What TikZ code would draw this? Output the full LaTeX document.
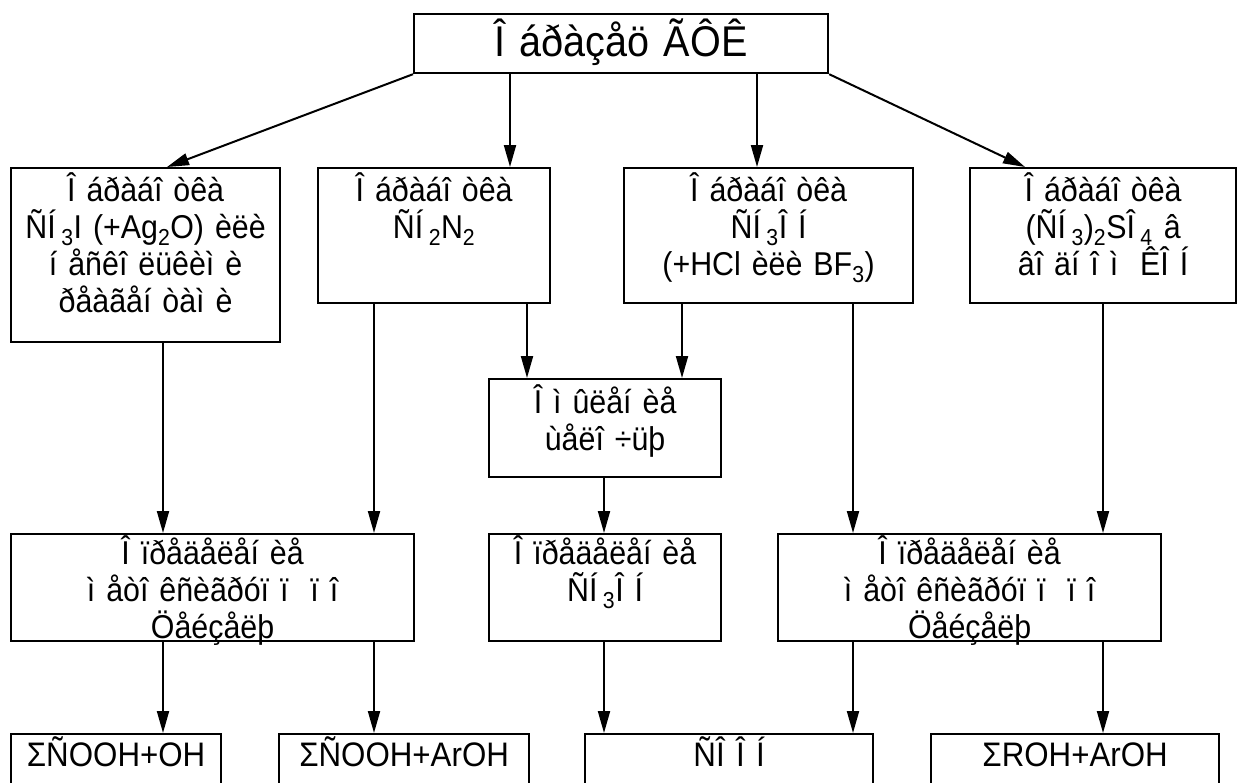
\documentclass[tikz,border=0pt]{standalone}
\usepackage{fontspec}
\setmainfont[FakeStretch=0.92, WordSpace=1.3]{Liberation Sans}
\usetikzlibrary{arrows.meta}
\newcommand\sbs[1]{\textsubscript{#1}}
\begin{document}
\begin{tikzpicture}[x=1pt,y=-1pt,
  box/.style={draw, line width=2.2pt, inner sep=0pt, anchor=north west},
  txt/.style={anchor=north, align=center, inner sep=0pt, font=\fontsize{33}{37}\selectfont},
  txtc/.style={txt, font=\fontsize{33}{37}\selectfont},
  txtb/.style={anchor=base, inner sep=0pt, font=\fontsize{34}{35}\selectfont},
  arr/.style={line width=2pt, -{Triangle[length=22pt,width=12pt]}}]
\clip (0,0) rectangle (1238,782);
\useasboundingbox (0,0) rectangle (1238,782);
% boxes
\node[box, minimum width=414pt, minimum height=59pt] (top) at (413,13) {};
\node[box, minimum width=269pt, minimum height=174pt] (A) at (10,167) {};
\node[box, minimum width=232pt, minimum height=135pt] (B) at (317,167) {};
\node[box, minimum width=289pt, minimum height=135pt] (C) at (623,167) {};
\node[box, minimum width=266pt, minimum height=135pt] (D) at (969,167) {};
\node[box, minimum width=232pt, minimum height=98pt] (E) at (488,378) {};
\node[box, minimum width=403pt, minimum height=107pt] (F) at (10,533) {};
\node[box, minimum width=232pt, minimum height=107pt] (G) at (488,533) {};
\node[box, minimum width=383pt, minimum height=107pt] (H) at (777,533) {};
\node[box, minimum width=210pt, minimum height=80pt] (I) at (10,733) {};
\node[box, minimum width=250pt, minimum height=80pt] (J) at (278,733) {};
\node[box, minimum width=288pt, minimum height=80pt] (K) at (584,733) {};
\node[box, minimum width=288pt, minimum height=80pt] (L) at (930,733) {};
% texts
\node[txt, anchor=center, font=\fontsize{43}{47}\selectfont] (tTop) at ([yshift=1pt]top.center) {Î áðàçåö ÃÔÊ};
\node[txt] (tA) at ([yshift=-5pt]A.north) {Î áðàáî òêà\\ ÑÍ\,\sbs{3}I (+Ag\sbs{2}O) èëè\\ í åñêî ëüêèì è\\ ðåàãåí òàì è};
\node[txt] (tB) at ([yshift=-5pt]B.north) {Î áðàáî òêà\\ ÑÍ\,\sbs{2}N\sbs{2}};
\node[txt] (tC) at ([yshift=-5pt]C.north) {Î áðàáî òêà\\ ÑÍ\,\sbs{3}Î Í\\ (+HCl èëè BF\sbs{3})};
\node[txt] (tD) at ([yshift=-5pt]D.north) {Î áðàáî òêà\\ (ÑÍ\,\sbs{3})\sbs{2}SÎ\,\sbs{4} â\\ âî äí î ì\ \ ÊÎ Í};
\node[txt] (tE) at ([yshift=-6pt]E.north) {Î ì ûëåí èå\\ ùåëî ÷üþ};
\node[txtc] (tF) at ([yshift=-2pt]F.north) {Î ïðåäåëåí èå\\ ì åòî êñèãðóï ï\ \ ï î\\ Öåéçåëþ};
\node[txtc] (tG) at ([yshift=-2pt]G.north) {Î ïðåäåëåí èå\\ ÑÍ\,\sbs{3}Î Í};
\node[txtc] (tH) at ([yshift=-2pt]H.north) {Î ïðåäåëåí èå\\ ì åòî êñèãðóï ï\ \ ï î\\ Öåéçåëþ};
\node[txtb] (tI) at ([yshift=-33pt]I.north) {ΣÑOOH+OH};
\node[txtb] (tJ) at ([yshift=-33pt]J.north) {ΣÑOOH+ArOH};
\node[txtb] (tK) at ([yshift=-33pt]K.north) {ÑÎ Î Í};
\node[txtb] (tL) at ([yshift=-33pt]L.north) {ΣROH+ArOH};
% x positions of the vertical connectors
\coordinate (x163) at (163,0);
\coordinate (x374) at (374,0);
\coordinate (x510) at (510,0);
\coordinate (x527) at (527,0);
\coordinate (x604) at (604,0);
\coordinate (x682) at (682,0);
\coordinate (x757) at (757,0);
\coordinate (x853) at (853,0);
\coordinate (x1103) at (1103,0);
% connectors
\draw[arr] (top.south west) -- ([xshift=157pt]A.north west);
\draw[arr] (top.south east) -- ([xshift=56pt]D.north west);
\draw[arr] (top.south -| x510) -- (B.north -| x510);
\draw[arr] (top.south -| x757) -- (C.north -| x757);
\draw[arr] (A.south -| x163) -- (F.north -| x163);
\draw[arr] (B.south -| x374) -- (F.north -| x374);
\draw[arr] (B.south -| x527) -- (E.north -| x527);
\draw[arr] (C.south -| x682) -- (E.north -| x682);
\draw[arr] (C.south -| x853) -- (H.north -| x853);
\draw[arr] (D.south -| x1103) -- (H.north -| x1103);
\draw[arr] (E.south -| x604) -- (G.north -| x604);
\draw[arr] (F.south -| x163) -- (I.north -| x163);
\draw[arr] (F.south -| x374) -- (J.north -| x374);
\draw[arr] (G.south -| x604) -- (K.north -| x604);
\draw[arr] (H.south -| x853) -- (K.north -| x853);
\draw[arr] (H.south -| x1103) -- (L.north -| x1103);
\end{tikzpicture}
\end{document}
